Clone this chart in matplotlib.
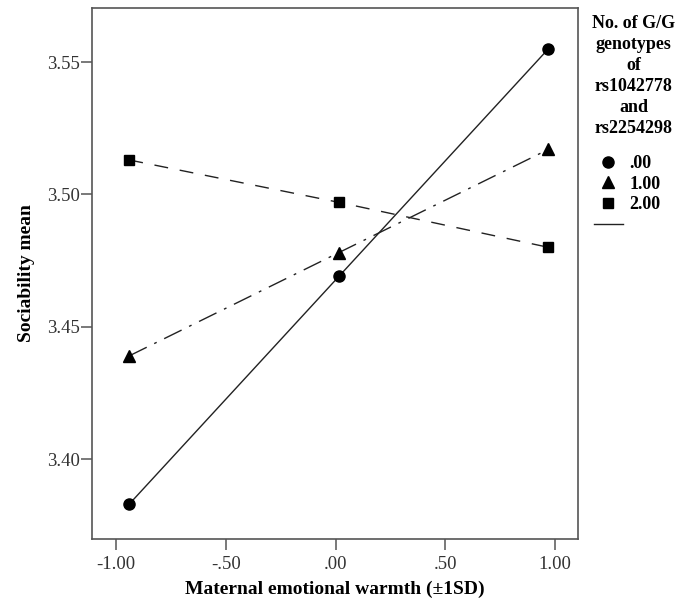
import matplotlib
matplotlib.use("Agg")
import matplotlib.pyplot as plt
from matplotlib.lines import Line2D

plt.rcParams['font.family'] = ['Liberation Serif', 'DejaVu Serif']

# maternal warmth at -1SD, mean, +1SD
warmth = [-0.94, 0.015, 0.97]

# sociability means per number of G/G genotypes
gg_0 = [3.383, 3.469, 3.555]
gg_1 = [3.439, 3.478, 3.517]
gg_2 = [3.513, 3.497, 3.480]

group_labels = ['.00', '1.00', '2.00']
x_ticks = [-1.0, -0.5, 0.0, 0.5, 1.0]
x_ticklabels = ['-1.00', '-.50', '.00', '.50', '1.00']
y_ticks = [3.40, 3.45, 3.50, 3.55]
y_ticklabels = ['3.40', '3.45', '3.50', '3.55']

line_col = '#222222'
frame_col = '#555555'

fig = plt.figure(figsize=(6.91, 6.09), dpi=100)
ax = fig.add_axes([0.1331, 0.1149, 0.7034, 0.8719])

ax.plot(warmth, gg_0, color=line_col, lw=1.0, ls='-',
        marker='o', ms=8, mfc='black', mec='black')
ax.plot(warmth, gg_1, color=line_col, lw=1.0, ls=(0, (14, 6, 2, 6)),
        marker='^', ms=9, mfc='black', mec='black')
ax.plot(warmth, gg_2, color=line_col, lw=1.0, ls=(0, (10, 8.5)),
        marker='s', ms=7, mfc='black', mec='black')

ax.set_xlim(-1.11, 1.105)
ax.set_ylim(3.3698, 3.5704)
ax.set_xticks(x_ticks)
ax.set_xticklabels(x_ticklabels)
ax.set_yticks(y_ticks)
ax.set_yticklabels(y_ticklabels)

for sp in ax.spines.values():
    sp.set_color(frame_col)
    sp.set_linewidth(1.2)
ax.tick_params(axis='both', direction='out', length=8, width=1.1,
               color=frame_col, labelsize=13.5, labelcolor='#333333')
ax.tick_params(axis='y', pad=1)
ax.tick_params(axis='x', pad=4)

ax.set_xlabel('Maternal emotional warmth (\u00b11SD)', fontsize=14,
              fontweight='bold', labelpad=6)
ax.set_ylabel('Sociability mean', fontsize=14, fontweight='bold',
              labelpad=8)

# legend title as its own text block, centred (anchored on last line)
fig.text(633.5 / 691, 1 - 133 / 609,
         'No. of G/G\ngenotypes\nof\nrs1042778\nand\nrs2254298',
         ha='center', va='baseline', multialignment='center',
         fontsize=13, fontweight='bold', linespacing=1.31)

handles = [
    Line2D([], [], ls='none', marker='o', ms=8, color='black'),
    Line2D([], [], ls='none', marker='^', ms=9, color='black'),
    Line2D([], [], ls='none', marker='s', ms=7, color='black'),
    Line2D([], [], ls='-', lw=1.0, color=line_col),
]
leg = fig.legend(handles, group_labels + [' '],
                 loc='upper left', bbox_to_anchor=(594 / 691, 1 - 155 / 609),
                 frameon=False, prop={'size': 13, 'weight': 'bold'},
                 handlelength=1.6, handletextpad=0.35, labelspacing=0.2,
                 borderpad=0, borderaxespad=0)

fig.savefig('out.png', dpi=100)
